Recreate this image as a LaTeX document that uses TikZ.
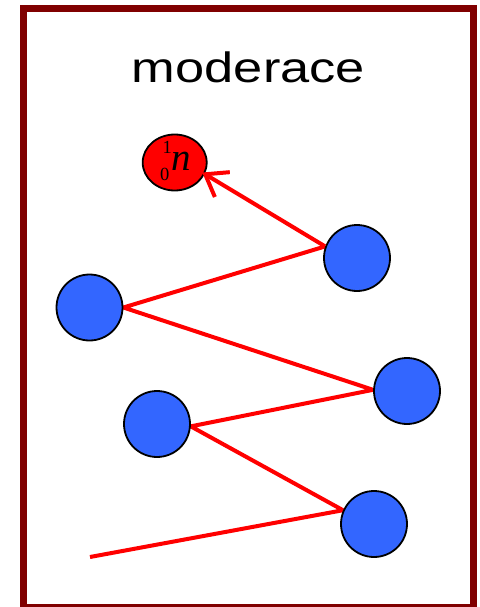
\documentclass[tikz,border=0pt]{standalone}
\usepackage{fontspec}
\setmainfont{Liberation Serif}
\newfontfamily\titlefont{Liberation Sans}
\usetikzlibrary{shapes.geometric,arrows.meta,backgrounds}
\definecolor{framecol}{HTML}{800000}
\definecolor{ballcol}{HTML}{3366FF}
\begin{document}
\begin{tikzpicture}[x=1pt,y=-1pt,
  ball/.style={circle,draw=black,line width=1.8pt,fill=ballcol,minimum size=66pt,inner sep=0pt},
  neutron/.style={ellipse,draw=black,line width=1.8pt,fill=red,minimum width=64pt,minimum height=56pt,inner sep=0pt},
  track/.style={draw=red,line width=4pt,line join=miter},
  framebox/.style={draw=framecol,line width=6.8pt}]
\useasboundingbox (0,0) rectangle (479,607);
\draw[framebox] (23.5,8.3) rectangle (473.3,607.4);
\node[anchor=base,inner sep=0pt,xscale=1.236] (title) at (248.5,83)
  {\titlefont\fontsize{42.4}{42.4}\selectfont moderace};
\node[neutron] (n) at (174.7,162.5) {};
\node[anchor=base west,inner sep=0pt] (nlabel) at (160,170.7)
  {\fontsize{18.5}{18.5}\selectfont\raisebox{-9.3pt}{0}\kern-6.8pt\raisebox{17.4pt}{1}\fontsize{39}{39}\selectfont\itshape n};
\node[ball] (c1) at (357,258) {};
\node[ball] (c2) at (89.5,307.5) {};
\node[ball] (c3) at (407,391) {};
\node[ball] (c4) at (157,424) {};
\node[ball] (c5) at (374,524) {};
\coordinate (start) at (90,557);
\begin{scope}[on background layer]
\draw[track] (start) -- (c5.156) -- (c4.-4) -- (c3.178) -- (c2.0) -- (c1.160);
\end{scope}
\draw[track,-{Straight Barb[length=20pt,width=29pt]},shorten >=-3pt] (c1.160) -- (n.-21);
\end{tikzpicture}
\end{document}
